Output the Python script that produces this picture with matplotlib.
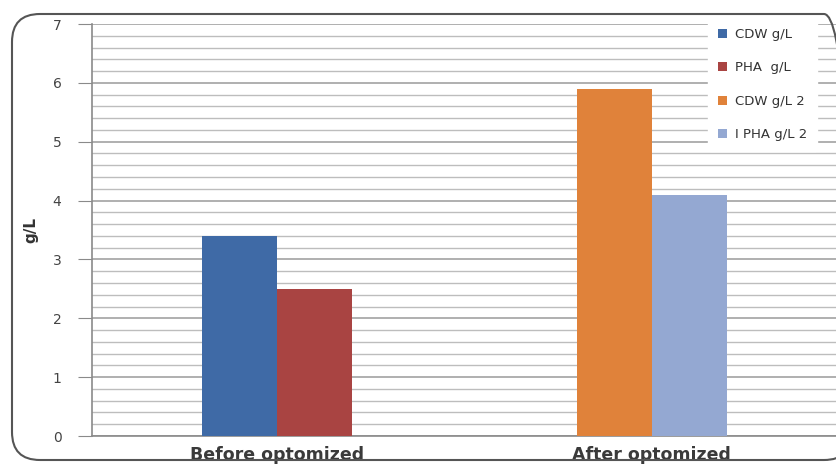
import matplotlib
matplotlib.use("Agg")
import matplotlib.pyplot as plt
from matplotlib.patches import FancyBboxPatch
from matplotlib.ticker import MultipleLocator
import numpy as np

categories = ["Before optomized", "After optomized"]
series_names = ["CDW g/L", "PHA  g/L", "CDW g/L 2", "I PHA g/L 2"]
cdw_before = [3.4, 0]
pha_before = [2.5, 0]
cdw_after = [0, 5.9]
pha_after = [0, 4.1]
colors = ["#3F6AA6", "#A94442", "#E0823A", "#94A8D2"]

W, H = 836, 466
fig = plt.figure(figsize=(W/100, H/100), dpi=100)
ax = fig.add_axes([92/W, 1-436/H, 744/W, (436-24)/H])

x = np.arange(len(categories))
w = 0.2
ax.bar([x[0] - w/2], [cdw_before[0]], width=w, color=colors[0], label=series_names[0], zorder=3)
ax.bar([x[0] + w/2], [pha_before[0]], width=w, color=colors[1], label=series_names[1], zorder=3)
ax.bar([x[1] - w/2], [cdw_after[1]], width=w, color=colors[2], label=series_names[2], zorder=3)
ax.bar([x[1] + w/2], [pha_after[1]], width=w, color=colors[3], label=series_names[3], zorder=3)

ax.set_xlim(-0.493, 1.491)
ax.set_ylim(0, 7)
ax.yaxis.set_major_locator(MultipleLocator(1))
ax.yaxis.set_minor_locator(MultipleLocator(0.2))
ax.grid(axis="y", which="major", color="#9A9A9A", linewidth=1.1, zorder=0)
ax.grid(axis="y", which="minor", color="#BDBDBD", linewidth=1.0, zorder=0)
ax.set_axisbelow(True)

for s in ["top", "right"]:
    ax.spines[s].set_visible(False)
ax.spines["left"].set_color("#8A8A8A")
ax.spines["bottom"].set_color("#8A8A8A")
ax.spines["left"].set_linewidth(1.2)
ax.spines["bottom"].set_linewidth(1.2)

ax.tick_params(axis="y", which="major", length=10, color="#8A8A8A", labelsize=10,
               labelcolor="#444444", pad=12)
ax.tick_params(axis="y", which="minor", length=0)
ax.set_xticks(x)
ax.set_xticklabels(categories, fontsize=12.5, fontweight="semibold", color="#3A3A3A")
ax.tick_params(axis="x", length=0, pad=7)

ax.set_ylabel("g/L", fontsize=11, fontweight="bold", color="#333333", labelpad=10)

leg = fig.legend(loc="upper left", bbox_to_anchor=(708/W, 1 - 18/H), frameon=True,
                 fontsize=9.5, labelspacing=1.55, handlelength=0.7, handleheight=0.7,
                 handletextpad=0.6, borderpad=0.75, borderaxespad=0,
                 labelcolor="#333333")
leg.get_frame().set_facecolor("white")
leg.get_frame().set_edgecolor("white")
leg.get_frame().set_alpha(1.0)

# rounded outer frame (in inches so the corners stay circular)
border = FancyBboxPatch((12/100, 6/100), 840/100, 446/100,
                        boxstyle="round,pad=0,rounding_size=0.28",
                        transform=fig.dpi_scale_trans, fill=False,
                        edgecolor="#555555", linewidth=1.5, zorder=10,
                        clip_on=False)
fig.patches.append(border)

fig.savefig("out.png", dpi=100)
